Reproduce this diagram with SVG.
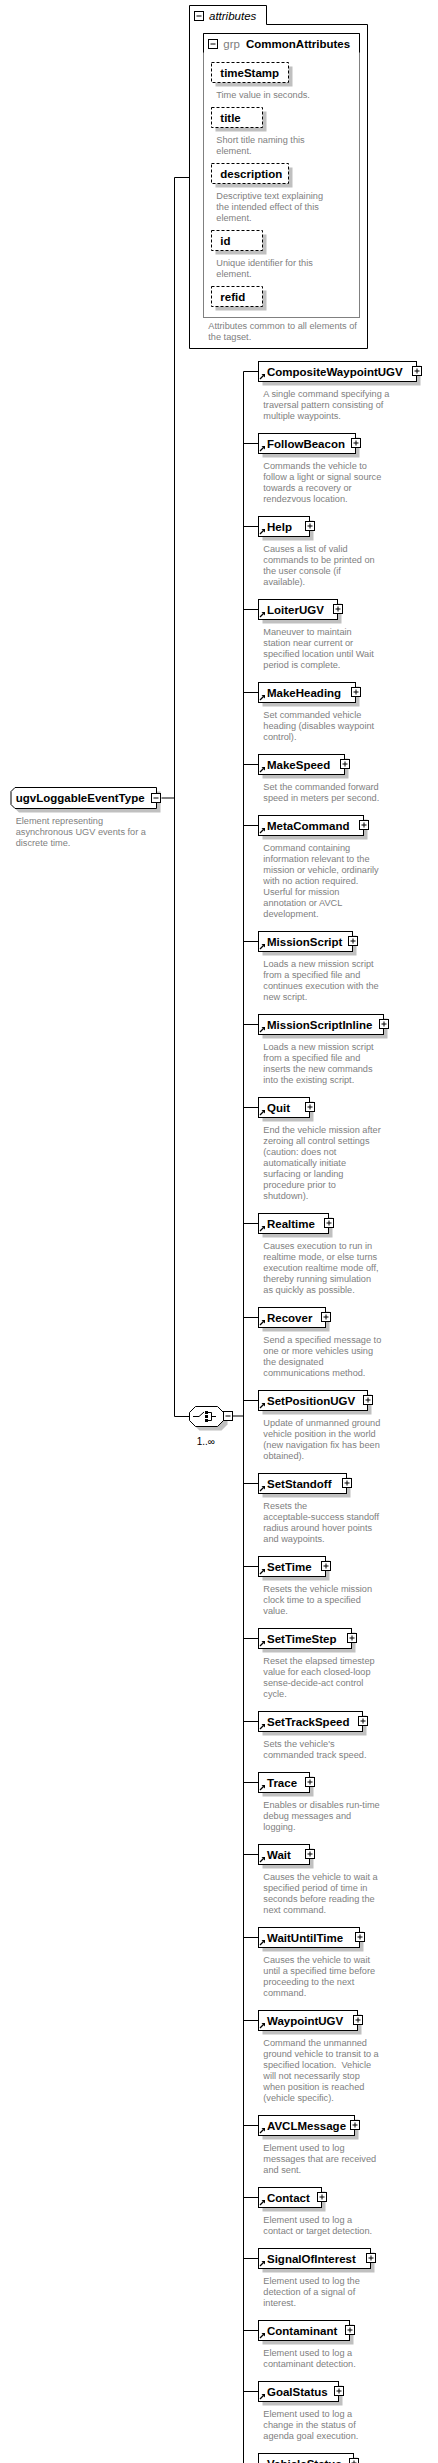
<svg xmlns="http://www.w3.org/2000/svg" xmlns:xlink="http://www.w3.org/1999/xlink" width="438" height="2463" viewBox="0 0 438 2463">
<style>
.box{fill:#fff;stroke:#000;stroke-width:1}
.sh{fill:#c0c0c0;stroke:none}
.dash{fill:#fff;stroke:#000;stroke-width:1;stroke-dasharray:3,2}
.t{font-family:"Liberation Sans",Arial,sans-serif;font-weight:bold;font-size:11.5px;fill:#000}
.d{font-family:"Liberation Sans",Arial,sans-serif;font-size:9.2px;fill:#808080}
.ln{fill:none;stroke:#000;stroke-width:1}
.g{fill:none;stroke:#808080;stroke-width:1}
</style>
<defs>
<g id="plus"><rect x="0" y="0" width="9" height="9" fill="#fff" stroke="#000"/><path d="M2,4.5H7M4.5,2V7" stroke="#000" fill="none"/></g>
<g id="minus"><rect x="0" y="0" width="9" height="9" fill="#fff" stroke="#000"/><path d="M2,4.5H7" stroke="#000" fill="none"/></g>
<g id="ref"><path d="M1.5,17.5L5,14" stroke="#000" stroke-width="1.3" fill="none"/><path d="M3,12.5H6.5V16Z" fill="#000"/></g>
</defs>

<g id="connectors">
<path class="ln" d="M161.5,798H174.5M174.5,177.5V1416.5M174.5,177.5H189.5M174.5,1416.5H189.5M232.5,1416H243.5M243.5,371.5V2463"/>
<path class="ln" d="M243.5,371.5H258.5M243.5,443.5H258.5M243.5,526.5H258.5M243.5,609.5H258.5M243.5,692.5H258.5M243.5,764.5H258.5M243.5,825.5H258.5M243.5,941.5H258.5M243.5,1024.5H258.5M243.5,1107.5H258.5M243.5,1223.5H258.5M243.5,1317.5H258.5M243.5,1400.5H258.5M243.5,1483.5H258.5M243.5,1566.5H258.5M243.5,1638.5H258.5M243.5,1721.5H258.5M243.5,1782.5H258.5M243.5,1854.5H258.5M243.5,1937.5H258.5M243.5,2020.5H258.5M243.5,2125.5H258.5M243.5,2197.5H258.5M243.5,2258.5H258.5M243.5,2330.5H258.5M243.5,2391.5H258.5M243.5,2463.5H258.5"/>
</g>

<g id="attributes">
<path class="box" d="M189.5,5.5H266.5V24.5H367.5V348.5H189.5Z"/>
<use xlink:href="#minus" x="194.5" y="11.5"/>
<text x="209" y="20" style="font-family:'Liberation Sans',Arial,sans-serif;font-style:italic;font-size:11.5px">attributes</text>
<text class="d" x="208.3" y="329">Attributes common to all elements of</text>
<text class="d" x="208.3" y="340">the tagset.</text>
</g>

<g id="grp-CommonAttributes">
<rect class="g" x="203.5" y="33.5" width="156" height="284"/>
<path class="ln" d="M203.5,52.5V33.5H359.5V52.5"/>
<use xlink:href="#minus" x="208.5" y="39.5"/>
<text x="223.3" y="48" style="font-family:'Liberation Sans',Arial,sans-serif;font-size:11.5px;fill:#808080">grp</text>
<text class="t" x="246" y="48">CommonAttributes</text>
</g>

<g id="attr-timeStamp">
<rect class="sh" x="215.5" y="66.5" width="77" height="20"/>
<rect class="dash" x="211.5" y="62.5" width="77" height="20"/>
<text class="t" x="220.3" y="77">timeStamp</text>
<text class="d" x="216.3" y="98">Time value in seconds.</text>
</g>
<g id="attr-title">
<rect class="sh" x="215.5" y="111.5" width="51" height="20"/>
<rect class="dash" x="211.5" y="107.5" width="51" height="20"/>
<text class="t" x="220.3" y="122">title</text>
<text class="d" x="216.3" y="143">Short title naming this</text>
<text class="d" x="216.3" y="154">element.</text>
</g>
<g id="attr-description">
<rect class="sh" x="215.5" y="167.5" width="77" height="20"/>
<rect class="dash" x="211.5" y="163.5" width="77" height="20"/>
<text class="t" x="220.3" y="178">description</text>
<text class="d" x="216.3" y="199">Descriptive text explaining</text>
<text class="d" x="216.3" y="210">the intended effect of this</text>
<text class="d" x="216.3" y="221">element.</text>
</g>
<g id="attr-id">
<rect class="sh" x="215.5" y="234.5" width="51" height="20"/>
<rect class="dash" x="211.5" y="230.5" width="51" height="20"/>
<text class="t" x="220.3" y="245">id</text>
<text class="d" x="216.3" y="266">Unique identifier for this</text>
<text class="d" x="216.3" y="277">element.</text>
</g>
<g id="attr-refid">
<rect class="sh" x="215.5" y="290.5" width="51" height="20"/>
<rect class="dash" x="211.5" y="286.5" width="51" height="20"/>
<text class="t" x="220.3" y="301">refid</text>
</g>

<g id="root-ugvLoggableEventType">
<path class="sh" d="M19,791.5H160.5V812.5H19L15,808.5V795.5Z"/>
<path class="box" d="M15,787.5H156.5V808.5H15L11,804.5V791.5Z"/>
<text class="t" x="15.7" y="802">ugvLoggableEventType</text>
<use xlink:href="#minus" x="151.5" y="793.5"/>
<text class="d" x="15.7" y="823.5">Element representing</text>
<text class="d" x="15.7" y="834.5">asynchronous UGV events for a</text>
<text class="d" x="15.7" y="845.5">discrete time.</text>
</g>

<g id="choice">
<path class="sh" d="M199.5,1410.5H221.5L227.5,1416.5V1424.5L221.5,1430.5H199.5L193.5,1424.5V1416.5Z"/>
<path class="box" d="M195.5,1406.5H217.5L223.5,1412.5V1420.5L217.5,1426.5H195.5L189.5,1420.5V1412.5Z"/>
<path class="ln" d="M193,1416.5H199L204,1412M208,1412.5H211.5V1420.5H208M211.5,1416.5H216"/>
<rect x="205" y="1411" width="3" height="3" fill="#000"/>
<rect x="205" y="1415" width="3" height="3" fill="#000"/>
<rect x="205" y="1419" width="3" height="3" fill="#000"/>
<use xlink:href="#minus" x="223.5" y="1411.5"/>
<text x="196.7" y="1444.5" style="font-family:'Liberation Sans',Arial,sans-serif;font-size:10px;fill:#000">1..∞</text>
</g>

<g id="n-CompositeWaypointUGV" transform="translate(258.5,361.5)">
<rect class="sh" x="4" y="4" width="158" height="20"/><rect class="box" width="158" height="20"/><use xlink:href="#ref"/>
<text class="t" x="8.5" y="14.5">CompositeWaypointUGV</text><use xlink:href="#plus" x="154" y="5"/>
<text class="d" x="4.8" y="35.5">A single command specifying a</text><text class="d" x="4.8" y="46.5">traversal pattern consisting of</text><text class="d" x="4.8" y="57.5">multiple waypoints.</text>
</g>
<g id="n-FollowBeacon" transform="translate(258.5,433.5)">
<rect class="sh" x="4" y="4" width="97" height="20"/><rect class="box" width="97" height="20"/><use xlink:href="#ref"/>
<text class="t" x="8.5" y="14.5">FollowBeacon</text><use xlink:href="#plus" x="93" y="5"/>
<text class="d" x="4.8" y="35.5">Commands the vehicle to</text><text class="d" x="4.8" y="46.5">follow a light or signal source</text><text class="d" x="4.8" y="57.5">towards a recovery or</text><text class="d" x="4.8" y="68.5">rendezvous location.</text>
</g>
<g id="n-Help" transform="translate(258.5,516.5)">
<rect class="sh" x="4" y="4" width="51" height="20"/><rect class="box" width="51" height="20"/><use xlink:href="#ref"/>
<text class="t" x="8.5" y="14.5">Help</text><use xlink:href="#plus" x="47" y="5"/>
<text class="d" x="4.8" y="35.5">Causes a list of valid</text><text class="d" x="4.8" y="46.5">commands to be printed on</text><text class="d" x="4.8" y="57.5">the user console (if</text><text class="d" x="4.8" y="68.5">available).</text>
</g>
<g id="n-LoiterUGV" transform="translate(258.5,599.5)">
<rect class="sh" x="4" y="4" width="79" height="20"/><rect class="box" width="79" height="20"/><use xlink:href="#ref"/>
<text class="t" x="8.5" y="14.5">LoiterUGV</text><use xlink:href="#plus" x="75" y="5"/>
<text class="d" x="4.8" y="35.5">Maneuver to maintain</text><text class="d" x="4.8" y="46.5">station near current or</text><text class="d" x="4.8" y="57.5">specified location until Wait</text><text class="d" x="4.8" y="68.5">period is complete.</text>
</g>
<g id="n-MakeHeading" transform="translate(258.5,682.5)">
<rect class="sh" x="4" y="4" width="97" height="20"/><rect class="box" width="97" height="20"/><use xlink:href="#ref"/>
<text class="t" x="8.5" y="14.5">MakeHeading</text><use xlink:href="#plus" x="93" y="5"/>
<text class="d" x="4.8" y="35.5">Set commanded vehicle</text><text class="d" x="4.8" y="46.5">heading (disables waypoint</text><text class="d" x="4.8" y="57.5">control).</text>
</g>
<g id="n-MakeSpeed" transform="translate(258.5,754.5)">
<rect class="sh" x="4" y="4" width="86" height="20"/><rect class="box" width="86" height="20"/><use xlink:href="#ref"/>
<text class="t" x="8.5" y="14.5">MakeSpeed</text><use xlink:href="#plus" x="82" y="5"/>
<text class="d" x="4.8" y="35.5">Set the commanded forward</text><text class="d" x="4.8" y="46.5">speed in meters per second.</text>
</g>
<g id="n-MetaCommand" transform="translate(258.5,815.5)">
<rect class="sh" x="4" y="4" width="105" height="20"/><rect class="box" width="105" height="20"/><use xlink:href="#ref"/>
<text class="t" x="8.5" y="14.5">MetaCommand</text><use xlink:href="#plus" x="101" y="5"/>
<text class="d" x="4.8" y="35.5">Command containing</text><text class="d" x="4.8" y="46.5">information relevant to the</text><text class="d" x="4.8" y="57.5">mission or vehicle, ordinarily</text><text class="d" x="4.8" y="68.5">with no action required.</text><text class="d" x="4.8" y="79.5">Userful for mission</text><text class="d" x="4.8" y="90.5">annotation or AVCL</text><text class="d" x="4.8" y="101.5">development.</text>
</g>
<g id="n-MissionScript" transform="translate(258.5,931.5)">
<rect class="sh" x="4" y="4" width="94" height="20"/><rect class="box" width="94" height="20"/><use xlink:href="#ref"/>
<text class="t" x="8.5" y="14.5">MissionScript</text><use xlink:href="#plus" x="90" y="5"/>
<text class="d" x="4.8" y="35.5">Loads a new mission script</text><text class="d" x="4.8" y="46.5">from a specified file and</text><text class="d" x="4.8" y="57.5">continues execution with the</text><text class="d" x="4.8" y="68.5">new script.</text>
</g>
<g id="n-MissionScriptInline" transform="translate(258.5,1014.5)">
<rect class="sh" x="4" y="4" width="125" height="20"/><rect class="box" width="125" height="20"/><use xlink:href="#ref"/>
<text class="t" x="8.5" y="14.5">MissionScriptInline</text><use xlink:href="#plus" x="121" y="5"/>
<text class="d" x="4.8" y="35.5">Loads a new mission script</text><text class="d" x="4.8" y="46.5">from a specified file and</text><text class="d" x="4.8" y="57.5">inserts the new commands</text><text class="d" x="4.8" y="68.5">into the existing script.</text>
</g>
<g id="n-Quit" transform="translate(258.5,1097.5)">
<rect class="sh" x="4" y="4" width="51" height="20"/><rect class="box" width="51" height="20"/><use xlink:href="#ref"/>
<text class="t" x="8.5" y="14.5">Quit</text><use xlink:href="#plus" x="47" y="5"/>
<text class="d" x="4.8" y="35.5">End the vehicle mission after</text><text class="d" x="4.8" y="46.5">zeroing all control settings</text><text class="d" x="4.8" y="57.5">(caution: does not</text><text class="d" x="4.8" y="68.5">automatically initiate</text><text class="d" x="4.8" y="79.5">surfacing or landing</text><text class="d" x="4.8" y="90.5">procedure prior to</text><text class="d" x="4.8" y="101.5">shutdown).</text>
</g>
<g id="n-Realtime" transform="translate(258.5,1213.5)">
<rect class="sh" x="4" y="4" width="70" height="20"/><rect class="box" width="70" height="20"/><use xlink:href="#ref"/>
<text class="t" x="8.5" y="14.5">Realtime</text><use xlink:href="#plus" x="66" y="5"/>
<text class="d" x="4.8" y="35.5">Causes execution to run in</text><text class="d" x="4.8" y="46.5">realtime mode, or else turns</text><text class="d" x="4.8" y="57.5">execution realtime mode off,</text><text class="d" x="4.8" y="68.5">thereby running simulation</text><text class="d" x="4.8" y="79.5">as quickly as possible.</text>
</g>
<g id="n-Recover" transform="translate(258.5,1307.5)">
<rect class="sh" x="4" y="4" width="67" height="20"/><rect class="box" width="67" height="20"/><use xlink:href="#ref"/>
<text class="t" x="8.5" y="14.5">Recover</text><use xlink:href="#plus" x="63" y="5"/>
<text class="d" x="4.8" y="35.5">Send a specified message to</text><text class="d" x="4.8" y="46.5">one or more vehicles using</text><text class="d" x="4.8" y="57.5">the designated</text><text class="d" x="4.8" y="68.5">communications method.</text>
</g>
<g id="n-SetPositionUGV" transform="translate(258.5,1390.5)">
<rect class="sh" x="4" y="4" width="109" height="20"/><rect class="box" width="109" height="20"/><use xlink:href="#ref"/>
<text class="t" x="8.5" y="14.5">SetPositionUGV</text><use xlink:href="#plus" x="105" y="5"/>
<text class="d" x="4.8" y="35.5">Update of unmanned ground</text><text class="d" x="4.8" y="46.5">vehicle position in the world</text><text class="d" x="4.8" y="57.5">(new navigation fix has been</text><text class="d" x="4.8" y="68.5">obtained).</text>
</g>
<g id="n-SetStandoff" transform="translate(258.5,1473.5)">
<rect class="sh" x="4" y="4" width="88" height="20"/><rect class="box" width="88" height="20"/><use xlink:href="#ref"/>
<text class="t" x="8.5" y="14.5">SetStandoff</text><use xlink:href="#plus" x="84" y="5"/>
<text class="d" x="4.8" y="35.5">Resets the</text><text class="d" x="4.8" y="46.5">acceptable-success standoff</text><text class="d" x="4.8" y="57.5">radius around hover points</text><text class="d" x="4.8" y="68.5">and waypoints.</text>
</g>
<g id="n-SetTime" transform="translate(258.5,1556.5)">
<rect class="sh" x="4" y="4" width="67" height="20"/><rect class="box" width="67" height="20"/><use xlink:href="#ref"/>
<text class="t" x="8.5" y="14.5">SetTime</text><use xlink:href="#plus" x="63" y="5"/>
<text class="d" x="4.8" y="35.5">Resets the vehicle mission</text><text class="d" x="4.8" y="46.5">clock time to a specified</text><text class="d" x="4.8" y="57.5">value.</text>
</g>
<g id="n-SetTimeStep" transform="translate(258.5,1628.5)">
<rect class="sh" x="4" y="4" width="93" height="20"/><rect class="box" width="93" height="20"/><use xlink:href="#ref"/>
<text class="t" x="8.5" y="14.5">SetTimeStep</text><use xlink:href="#plus" x="89" y="5"/>
<text class="d" x="4.8" y="35.5">Reset the elapsed timestep</text><text class="d" x="4.8" y="46.5">value for each closed-loop</text><text class="d" x="4.8" y="57.5">sense-decide-act control</text><text class="d" x="4.8" y="68.5">cycle.</text>
</g>
<g id="n-SetTrackSpeed" transform="translate(258.5,1711.5)">
<rect class="sh" x="4" y="4" width="104" height="20"/><rect class="box" width="104" height="20"/><use xlink:href="#ref"/>
<text class="t" x="8.5" y="14.5">SetTrackSpeed</text><use xlink:href="#plus" x="100" y="5"/>
<text class="d" x="4.8" y="35.5">Sets the vehicle's</text><text class="d" x="4.8" y="46.5">commanded track speed.</text>
</g>
<g id="n-Trace" transform="translate(258.5,1772.5)">
<rect class="sh" x="4" y="4" width="51" height="20"/><rect class="box" width="51" height="20"/><use xlink:href="#ref"/>
<text class="t" x="8.5" y="14.5">Trace</text><use xlink:href="#plus" x="47" y="5"/>
<text class="d" x="4.8" y="35.5">Enables or disables run-time</text><text class="d" x="4.8" y="46.5">debug messages and</text><text class="d" x="4.8" y="57.5">logging.</text>
</g>
<g id="n-Wait" transform="translate(258.5,1844.5)">
<rect class="sh" x="4" y="4" width="51" height="20"/><rect class="box" width="51" height="20"/><use xlink:href="#ref"/>
<text class="t" x="8.5" y="14.5">Wait</text><use xlink:href="#plus" x="47" y="5"/>
<text class="d" x="4.8" y="35.5">Causes the vehicle to wait a</text><text class="d" x="4.8" y="46.5">specified period of time in</text><text class="d" x="4.8" y="57.5">seconds before reading the</text><text class="d" x="4.8" y="68.5">next command.</text>
</g>
<g id="n-WaitUntilTime" transform="translate(258.5,1927.5)">
<rect class="sh" x="4" y="4" width="101" height="20"/><rect class="box" width="101" height="20"/><use xlink:href="#ref"/>
<text class="t" x="8.5" y="14.5">WaitUntilTime</text><use xlink:href="#plus" x="97" y="5"/>
<text class="d" x="4.8" y="35.5">Causes the vehicle to wait</text><text class="d" x="4.8" y="46.5">until a specified time before</text><text class="d" x="4.8" y="57.5">proceeding to the next</text><text class="d" x="4.8" y="68.5">command.</text>
</g>
<g id="n-WaypointUGV" transform="translate(258.5,2010.5)">
<rect class="sh" x="4" y="4" width="99" height="20"/><rect class="box" width="99" height="20"/><use xlink:href="#ref"/>
<text class="t" x="8.5" y="14.5">WaypointUGV</text><use xlink:href="#plus" x="95" y="5"/>
<text class="d" x="4.8" y="35.5">Command the unmanned</text><text class="d" x="4.8" y="46.5">ground vehicle to transit to a</text><text class="d" x="4.8" y="57.5">specified location.&#160; Vehicle</text><text class="d" x="4.8" y="68.5">will not necessarily stop</text><text class="d" x="4.8" y="79.5">when position is reached</text><text class="d" x="4.8" y="90.5">(vehicle specific).</text>
</g>
<g id="n-AVCLMessage" transform="translate(258.5,2115.5)">
<rect class="sh" x="4" y="4" width="96" height="20"/><rect class="box" width="96" height="20"/><use xlink:href="#ref"/>
<text class="t" x="8.5" y="14.5">AVCLMessage</text><use xlink:href="#plus" x="92" y="5"/>
<text class="d" x="4.8" y="35.5">Element used to log</text><text class="d" x="4.8" y="46.5">messages that are received</text><text class="d" x="4.8" y="57.5">and sent.</text>
</g>
<g id="n-Contact" transform="translate(258.5,2187.5)">
<rect class="sh" x="4" y="4" width="63" height="20"/><rect class="box" width="63" height="20"/><use xlink:href="#ref"/>
<text class="t" x="8.5" y="14.5">Contact</text><use xlink:href="#plus" x="59" y="5"/>
<text class="d" x="4.8" y="35.5">Element used to log a</text><text class="d" x="4.8" y="46.5">contact or target detection.</text>
</g>
<g id="n-SignalOfInterest" transform="translate(258.5,2248.5)">
<rect class="sh" x="4" y="4" width="112" height="20"/><rect class="box" width="112" height="20"/><use xlink:href="#ref"/>
<text class="t" x="8.5" y="14.5">SignalOfInterest</text><use xlink:href="#plus" x="108" y="5"/>
<text class="d" x="4.8" y="35.5">Element used to log the</text><text class="d" x="4.8" y="46.5">detection of a signal of</text><text class="d" x="4.8" y="57.5">interest.</text>
</g>
<g id="n-Contaminant" transform="translate(258.5,2320.5)">
<rect class="sh" x="4" y="4" width="91" height="20"/><rect class="box" width="91" height="20"/><use xlink:href="#ref"/>
<text class="t" x="8.5" y="14.5">Contaminant</text><use xlink:href="#plus" x="87" y="5"/>
<text class="d" x="4.8" y="35.5">Element used to log a</text><text class="d" x="4.8" y="46.5">contaminant detection.</text>
</g>
<g id="n-GoalStatus" transform="translate(258.5,2381.5)">
<rect class="sh" x="4" y="4" width="80" height="20"/><rect class="box" width="80" height="20"/><use xlink:href="#ref"/>
<text class="t" x="8.5" y="14.5">GoalStatus</text><use xlink:href="#plus" x="76" y="5"/>
<text class="d" x="4.8" y="35.5">Element used to log a</text><text class="d" x="4.8" y="46.5">change in the status of</text><text class="d" x="4.8" y="57.5">agenda goal execution.</text>
</g>
<g id="n-VehicleStatus" transform="translate(258.5,2453.5)">
<rect class="sh" x="4" y="4" width="95" height="20"/><rect class="box" width="95" height="20"/><use xlink:href="#ref"/>
<text class="t" x="8.5" y="14.5">VehicleStatus</text><use xlink:href="#plus" x="91" y="5"/>
</g>
</svg>
